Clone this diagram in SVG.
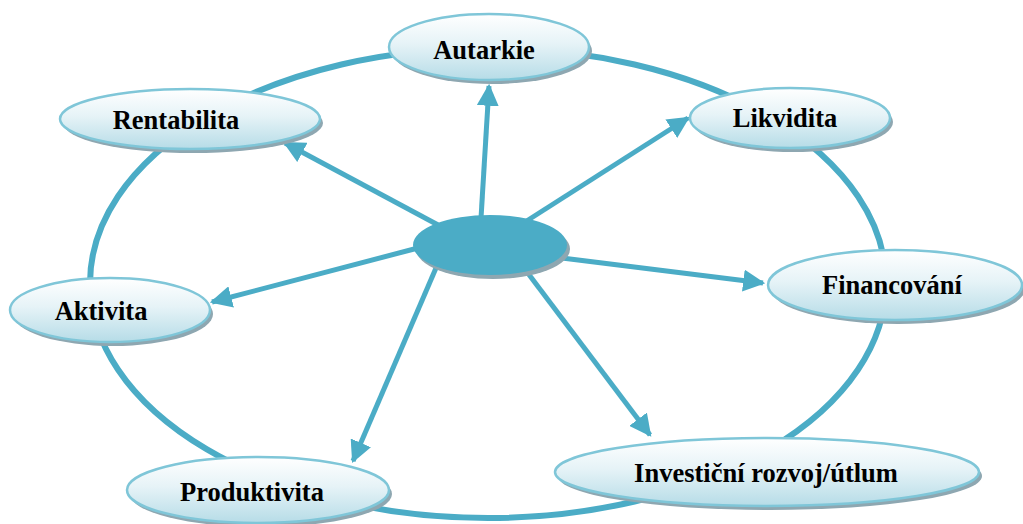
<svg xmlns="http://www.w3.org/2000/svg" width="1023" height="524" viewBox="0 0 1023 524">
<defs>
<linearGradient id="g" x1="0" y1="0" x2="0" y2="1">
<stop offset="0" stop-color="#ffffff"/>
<stop offset="0.45" stop-color="#e6f3f7"/>
<stop offset="1" stop-color="#b6dce7"/>
</linearGradient>
<marker id="ah" viewBox="0 0 10 10" refX="9" refY="5" markerWidth="4.4" markerHeight="4.4" markerUnits="strokeWidth" orient="auto">
<path d="M0,0 L10,5 L0,10 z" fill="#4bacc6"/>
</marker>
<style>
.ring{fill:none;stroke:#4bacc6;stroke-width:6}
.arr{stroke:#4bacc6;stroke-width:5;fill:none;marker-end:url(#ah)}
.sh{fill:#8ea7b1}
.nd{fill:url(#g);stroke:#7fc6d8;stroke-width:2.5}
.t{font-family:"Liberation Serif","Times New Roman",serif;font-weight:bold;font-size:26.5px;fill:#000;text-anchor:middle;dominant-baseline:central}
</style>
</defs>
<rect width="1023" height="524" fill="#ffffff"/>
<g id="connectors">
<ellipse class="ring" cx="488" cy="283" rx="398" ry="235"/>
<line class="arr" x1="481" y1="218" x2="489" y2="86"/>
<line class="arr" x1="440" y1="226" x2="285" y2="143"/>
<line class="arr" x1="525" y1="222" x2="688" y2="118"/>
<line class="arr" x1="562" y1="258" x2="763" y2="283"/>
<line class="arr" x1="418" y1="248" x2="212" y2="302"/>
<line class="arr" x1="436" y1="268" x2="353" y2="461"/>
<line class="arr" x1="524" y1="268" x2="650" y2="435"/>
</g>
<g id="center">
<ellipse class="sh" cx="493" cy="249" rx="77" ry="30"/>
<ellipse cx="490" cy="245" rx="77" ry="30" fill="#4bacc6"/>
</g>
<g id="autarkie">
<ellipse class="sh" cx="492" cy="51" rx="100" ry="33"/>
<ellipse class="nd" cx="489" cy="47" rx="100" ry="33"/>
<text class="t" x="484" y="50">Autarkie</text>
</g>
<g id="rentabilita">
<ellipse class="sh" cx="193" cy="123" rx="130" ry="30"/>
<ellipse class="nd" cx="190" cy="119" rx="130" ry="30"/>
<text class="t" x="176" y="120">Rentabilita</text>
</g>
<g id="likvidita">
<ellipse class="sh" cx="793" cy="122" rx="100" ry="30"/>
<ellipse class="nd" cx="790" cy="118" rx="100" ry="30"/>
<text class="t" x="785" y="118">Likvidita</text>
</g>
<g id="financovani">
<ellipse class="sh" cx="898" cy="289" rx="127" ry="35"/>
<ellipse class="nd" cx="895" cy="285" rx="127" ry="35"/>
<text class="t" x="892" y="285">Financování</text>
</g>
<g id="aktivita">
<ellipse class="sh" cx="113" cy="314" rx="100" ry="32"/>
<ellipse class="nd" cx="110" cy="310" rx="100" ry="32"/>
<text class="t" x="101" y="311">Aktivita</text>
</g>
<g id="produktivita">
<ellipse class="sh" cx="261" cy="494" rx="131" ry="33"/>
<ellipse class="nd" cx="258" cy="490" rx="131" ry="33"/>
<text class="t" x="252" y="492">Produktivita</text>
</g>
<g id="investicni">
<ellipse class="sh" cx="770" cy="476" rx="212" ry="34"/>
<ellipse class="nd" cx="767" cy="472" rx="212" ry="34"/>
<text class="t" x="766" y="473">Investiční rozvoj/útlum</text>
</g>
</svg>
